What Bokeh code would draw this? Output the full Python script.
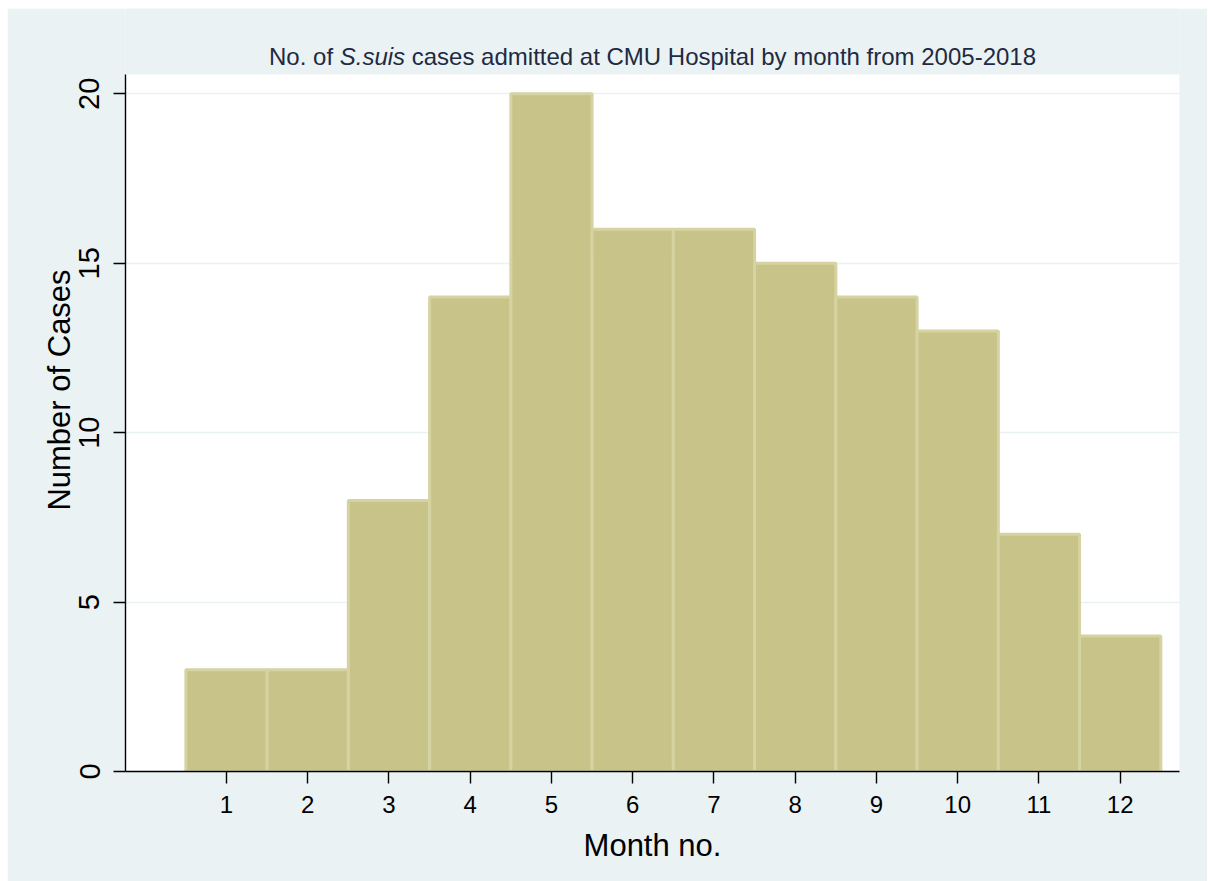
from bokeh.plotting import figure
from bokeh.models import Range1d, FixedTicker, Label, ColumnDataSource, BoxAnnotation
from bokeh.embed import file_html
from bokeh.resources import INLINE

# Data
months = [1, 2, 3, 4, 5, 6, 7, 8, 9, 10, 11, 12]
cases = [3, 3, 8, 14, 20, 16, 16, 15, 14, 13, 7, 4]
x_ticks = [1, 2, 3, 4, 5, 6, 7, 8, 9, 10, 11, 12]
y_ticks = [0, 5, 10, 15, 20]
title_parts = ["No. of", "S.suis", "cases admitted at CMU Hospital by month from 2005-2018"]
x_label = "Month no."
y_label = "Number of Cases"

FONT = "Liberation Sans"
BG = "#EAF2F3"

X0, X1 = -0.243, 12.73
Y_TOP = 20.57          # top of the white plot region
Y_END = 22.518         # extra room above for the title (gray)

p = figure(width=1200, height=873, output_backend="svg", toolbar_location=None,
           x_range=Range1d(X0, X1), y_range=Range1d(0, Y_END),
           min_border_left=118, min_border_right=28, min_border_top=0, min_border_bottom=110)
p.styles = {"margin-left": "7px", "margin-top": "8px"}
p.border_fill_color = BG
p.background_fill_color = BG
p.outline_line_color = None

# white plot region
p.add_layout(BoxAnnotation(bottom=0, top=Y_TOP, fill_color="white", fill_alpha=1.0,
                           line_color=None, level="image"))

src = ColumnDataSource(dict(x=months, top=cases))
p.vbar(x="x", top="top", bottom=0, width=1.0, source=src,
       fill_color="#C8C388", line_color="#D6D3A2", line_width=3)

# axes
for ax in (p.xaxis[0], p.yaxis[0]):
    ax.axis_line_color = "black"
    ax.axis_line_width = 1.4
    ax.major_tick_line_color = "black"
    ax.major_tick_line_width = 1.4
    ax.major_tick_out = 12
    ax.major_tick_in = 0
    ax.minor_tick_line_color = None
    ax.major_label_text_font = FONT
    ax.major_label_text_color = "black"
    ax.axis_label_text_font = FONT
    ax.axis_label_text_font_style = "normal"
    ax.axis_label_text_color = "black"
    ax.axis_label_text_font_size = "31px"

p.yaxis.bounds = (0, Y_TOP)
p.xaxis.ticker = FixedTicker(ticks=x_ticks)
p.yaxis.ticker = FixedTicker(ticks=y_ticks)
p.xaxis.axis_label = x_label
p.yaxis.axis_label = y_label
p.xaxis.major_label_text_font_size = "24px"
p.yaxis.major_label_text_font_size = "29px"
p.yaxis.major_label_orientation = "vertical"
p.xaxis.major_label_standoff = 12
p.yaxis.major_label_standoff = 14
p.xaxis.axis_label_standoff = 12
p.yaxis.axis_label_standoff = 0

p.xgrid.grid_line_color = None
p.ygrid.ticker = FixedTicker(ticks=[5, 10, 15, 20])
p.ygrid.grid_line_color = BG
p.ygrid.grid_line_width = 1.5

# title with italic species name (Arial/Liberation advance widths in em)
fs = 24
space = 0.278 * fs
w0 = 2.668 * fs      # "No. of"
w1 = 2.723 * fs      # "S.suis"
w2 = 26.010 * fs     # "cases admitted ... 2005-2018"
total = w0 + space + w1 + space + w2
xc = (X0 + X1) / 2
start = -total / 2
offsets = [start, start + w0 + space, start + w0 + space + w1 + space]
styles = ["normal", "italic", "normal"]
for txt, off, st in zip(title_parts, offsets, styles):
    p.add_layout(Label(x=xc, y=21.10, x_offset=off, text=txt, text_font=FONT,
                       text_font_size=f"{fs}px", text_font_style=st,
                       text_color="#1F2A44", text_align="left",
                       text_baseline="alphabetic"))

open("out.html", "w").write(file_html(p, INLINE))
